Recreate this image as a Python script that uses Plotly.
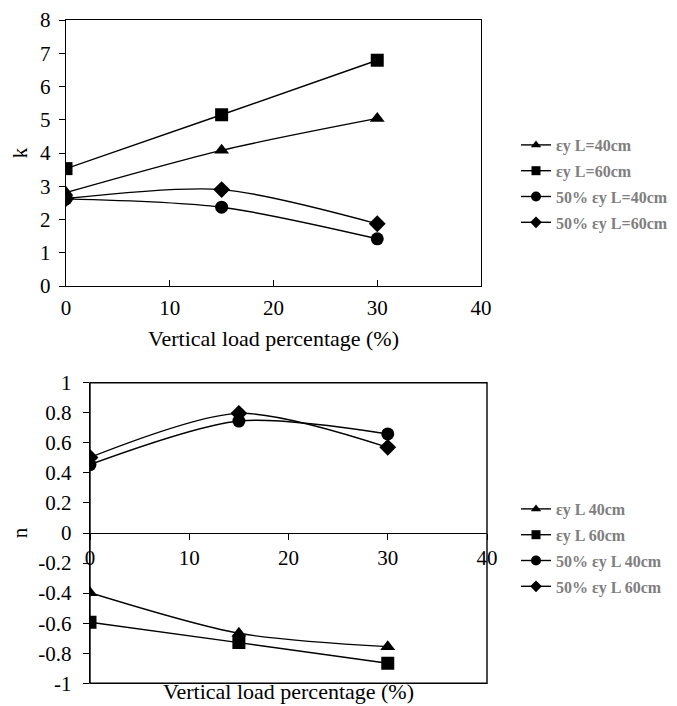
import plotly.graph_objects as go

x_vals = [0, 15, 30]

# Top chart (k)
k_names = ["εy L=40cm", "εy L=60cm", "50% εy L=40cm", "50% εy L=60cm"]
k_tri = [2.81, 4.08, 5.04]
k_sq = [3.53, 5.15, 6.79]
k_circ = [2.62, 2.37, 1.42]
k_dia = [2.63, 2.90, 1.87]

# Bottom chart (n)
n_names = ["εy L 40cm", "εy L 60cm", "50% εy L 40cm", "50% εy L 60cm"]
n_tri = [-0.397, -0.667, -0.756]
n_sq = [-0.594, -0.729, -0.867]
n_circ = [0.455, 0.745, 0.659]
n_dia = [0.503, 0.796, 0.570]

k_ticks = [0, 1, 2, 3, 4, 5, 6, 7, 8]
n_tickvals = [1, 0.8, 0.6, 0.4, 0.2, 0, -0.2, -0.4, -0.6, -0.8, -1]
n_ticktext = ["1", "0.8", "0.6", "0.4", "0.2", "0", "-0.2", "-0.4", "-0.6", "-0.8", "-1"]
x_ticks = [0, 10, 20, 30, 40]

symbols = ["triangle-up", "square", "circle", "diamond"]
sizes = [13, 13, 13, 13]
leg_sizes = [9, 9, 10, 9]

FONT = "Liberation Serif, Times New Roman, serif"
OFF = 8  # page body margin
W, H = 677 - OFF, 706 - OFF

fig = go.Figure()

def add_series(names, series, xa, ya, leg, grp):
    for i, (nm, ys) in enumerate(zip(names, series)):
        fig.add_trace(go.Scatter(
            x=x_vals, y=ys, name=nm, mode="lines+markers",
            line=dict(color="black", width=1.4, shape="spline", smoothing=0.8),
            marker=dict(symbol=symbols[i], size=sizes[i], color="black"),
            xaxis=xa, yaxis=ya, showlegend=False,
        ))
        fig.add_trace(go.Scatter(
            x=[None], y=[None], name=nm, mode="lines+markers",
            line=dict(color="black", width=1.4),
            marker=dict(symbol=symbols[i], size=leg_sizes[i], color="black"),
            xaxis=xa, yaxis=ya, legend=leg, legendgroup="%s%d" % (grp, i),
        ))

add_series(k_names, [k_tri, k_sq, k_circ, k_dia], "x", "y", "legend", "k")
add_series(n_names, [n_tri, n_sq, n_circ, n_dia], "x2", "y2", "legend2", "n")

def fx(px):
    return (px - OFF) / W

def fy(py):
    return 1 - (py - OFF) / H

top_x = [fx(66), fx(481)]
top_y = [fy(286), fy(20)]
bot_x = [fx(90), fx(487)]
bot_y = [fy(683.3), fy(382.7)]
zero_pos = (bot_y[0] + bot_y[1]) / 2

TF = dict(family=FONT, size=21, color="black")
axis_common = dict(showgrid=False, zeroline=False, linecolor="black", linewidth=1.4,
                   tickcolor="black", ticklen=6, tickfont=TF, automargin=False)

fig.update_layout(
    width=W, height=H,
    margin=dict(l=0, r=0, t=0, b=0),
    paper_bgcolor="white", plot_bgcolor="white",
    font=dict(family=FONT, color="black"),
    xaxis=dict(domain=top_x, anchor="y", range=[0, 40], tickvals=x_ticks,
               showline=True, mirror=True, ticks="inside", ticklabelstandoff=3,
               title=dict(text="Vertical load percentage (%)", font=dict(family=FONT, size=22), standoff=11),
               **axis_common),
    yaxis=dict(domain=top_y, anchor="x", range=[0, 8], tickvals=k_ticks,
               showline=True, mirror=True, ticks="outside", ticklabelstandoff=4,
               title=dict(text="k", font=dict(family=FONT, size=21), standoff=9),
               **axis_common),
    xaxis2=dict(domain=bot_x, anchor="free", position=zero_pos, range=[0, 40], tickvals=x_ticks,
                showline=True, ticks="outside",
                **axis_common),
    yaxis2=dict(domain=bot_y, anchor="x2", range=[-1, 1], tickvals=n_tickvals, ticktext=n_ticktext,
                showline=True, ticks="outside", ticklabelstandoff=7,
                title=dict(text="n", font=dict(family=FONT, size=21), standoff=5),
                **axis_common),
    legend=dict(x=fx(516), y=fy(128), xanchor="left", yanchor="top",
                font=dict(family=FONT, size=16, color="#7f7f7f", weight="bold"),
                tracegroupgap=2, bgcolor="rgba(0,0,0,0)", itemwidth=30),
    legend2=dict(x=fx(516), y=fy(492), xanchor="left", yanchor="top",
                 font=dict(family=FONT, size=16, color="#7f7f7f", weight="bold"),
                 tracegroupgap=2, bgcolor="rgba(0,0,0,0)", itemwidth=30),
    showlegend=True,
)

fig.add_shape(type="rect", xref="x2 domain", yref="y2 domain", x0=0, x1=1, y0=0, y1=1,
              line=dict(color="black", width=1.4), layer="below")

fig.add_annotation(text="Vertical load percentage (%)", xref="x2 domain", yref="paper",
                   x=0.5, y=0, yanchor="bottom", showarrow=False,
                   font=dict(family=FONT, size=22, color="black"))

fig.write_html("out.html")
